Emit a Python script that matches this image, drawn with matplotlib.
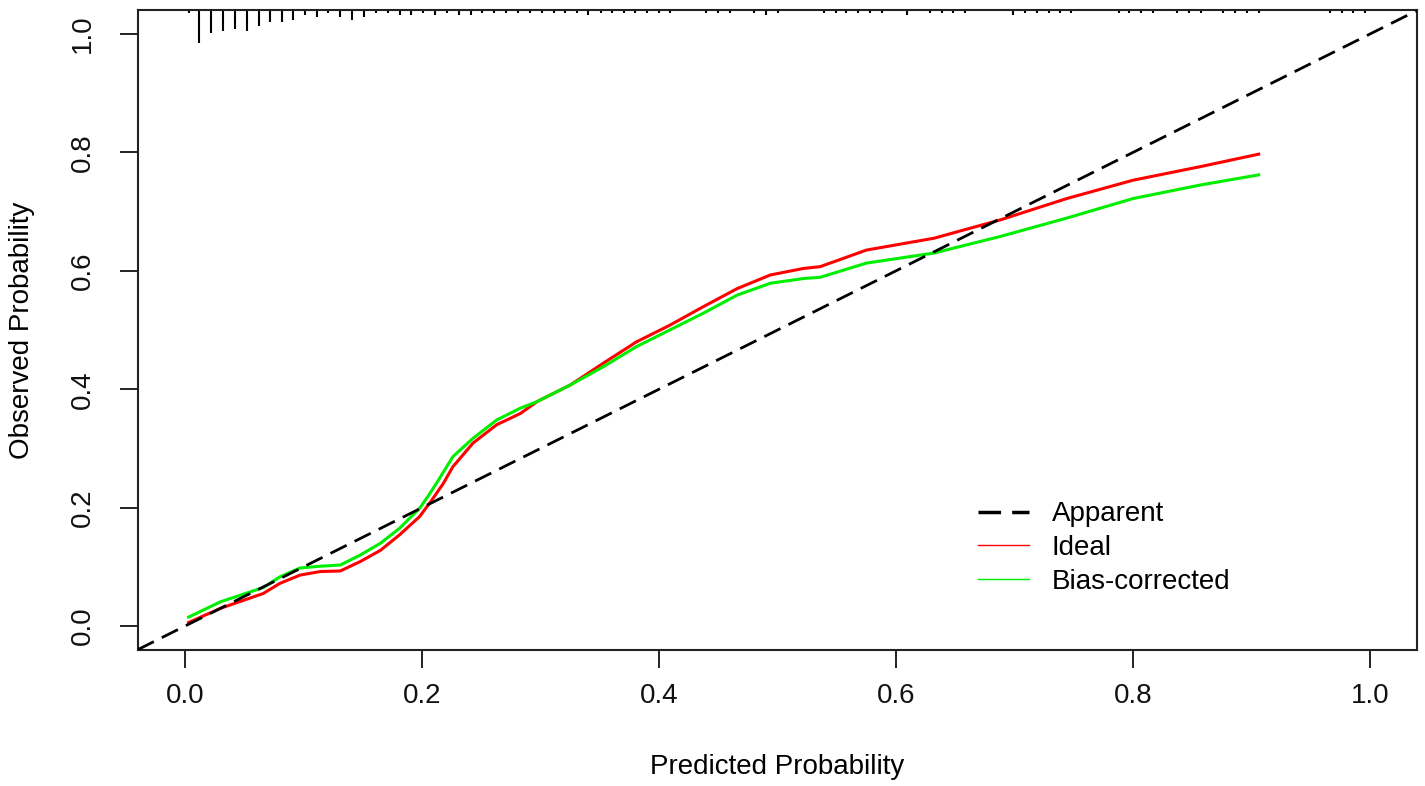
import matplotlib
matplotlib.use('Agg')
import matplotlib.pyplot as plt
from matplotlib.lines import Line2D

plt.rcParams['font.family'] = ['Liberation Sans', 'DejaVu Sans']

# calibration curves
ideal_x = [0.003, 0.030, 0.066, 0.080, 0.097, 0.114, 0.131, 0.148, 0.165, 0.181,
           0.198, 0.208, 0.218, 0.226, 0.243, 0.263, 0.283, 0.297, 0.325, 0.353,
           0.381, 0.409, 0.437, 0.466, 0.494, 0.522, 0.536, 0.575, 0.632, 0.688,
           0.744, 0.800, 0.857, 0.906]
ideal_y = [0.006, 0.030, 0.055, 0.072, 0.086, 0.092, 0.093, 0.109, 0.128, 0.154,
           0.185, 0.212, 0.241, 0.269, 0.309, 0.340, 0.359, 0.379, 0.407, 0.444,
           0.480, 0.508, 0.539, 0.570, 0.593, 0.604, 0.607, 0.635, 0.655, 0.686,
           0.722, 0.753, 0.776, 0.797]

bias_x = [0.003, 0.030, 0.066, 0.080, 0.097, 0.114, 0.131, 0.148, 0.165, 0.181,
          0.198, 0.206, 0.214, 0.226, 0.243, 0.263, 0.283, 0.297, 0.325, 0.353,
          0.381, 0.409, 0.437, 0.466, 0.494, 0.522, 0.536, 0.575, 0.632, 0.688,
          0.744, 0.800, 0.857, 0.906]
bias_y = [0.015, 0.041, 0.065, 0.083, 0.098, 0.101, 0.103, 0.120, 0.140, 0.165,
          0.199, 0.222, 0.247, 0.286, 0.317, 0.348, 0.368, 0.379, 0.407, 0.438,
          0.472, 0.500, 0.528, 0.559, 0.579, 0.587, 0.589, 0.613, 0.630, 0.658,
          0.689, 0.722, 0.745, 0.762]

# distribution of predicted risk (rug along the top)
rug_x = [0.003, 0.012, 0.022, 0.032, 0.042, 0.052, 0.062, 0.072, 0.082, 0.091,
         0.101, 0.111, 0.121, 0.131, 0.141, 0.151, 0.161, 0.171, 0.181, 0.191,
         0.201, 0.211, 0.221, 0.231, 0.241, 0.251, 0.261, 0.271, 0.281, 0.291,
         0.301, 0.311, 0.321, 0.331, 0.340, 0.351, 0.360, 0.370, 0.380, 0.390,
         0.400, 0.409, 0.440, 0.450, 0.460, 0.480, 0.490, 0.500, 0.539, 0.549,
         0.558, 0.568, 0.578, 0.588, 0.609, 0.629, 0.639, 0.648, 0.658, 0.699,
         0.709, 0.719, 0.729, 0.738, 0.748, 0.788, 0.797, 0.807, 0.817, 0.837,
         0.847, 0.857, 0.876, 0.886, 0.896, 0.906, 0.966, 0.976, 0.986, 0.996]
rug_n = [1, 14, 10, 9, 8, 9, 7, 5, 5, 4,
         2, 3, 1, 3, 4, 3, 1, 1, 2, 2,
         1, 2, 1, 2, 2, 1, 1, 1, 1, 1,
         1, 1, 1, 1, 2, 1, 1, 1, 1, 1,
         1, 1, 1, 1, 1, 1, 2, 1, 1, 1,
         1, 1, 1, 1, 2, 1, 1, 1, 1, 2,
         1, 1, 1, 1, 1, 1, 1, 1, 1, 1,
         1, 1, 1, 1, 1, 1, 1, 1, 1, 1]

ticks = [0.0, 0.2, 0.4, 0.6, 0.8, 1.0]
tick_labels = ['0.0', '0.2', '0.4', '0.6', '0.8', '1.0']
legend_labels = ['Apparent', 'Ideal', 'Bias-corrected']

fig = plt.figure(figsize=(14.25, 7.86), dpi=100)
ax = fig.add_axes([0.0966, 0.1734, 0.8981, 0.8135])
ax.set_xlim(-0.04, 1.04)
ax.set_ylim(-0.04, 1.04)

dash = (6.5, 3.2)
ax.plot(ideal_x, ideal_y, color='red', lw=2.2, zorder=2)
ax.plot(bias_x, bias_y, color='#00ee00', lw=2.2, zorder=2)
ax.axline((0, 0), (1, 1), color='black', lw=2.0, dashes=dash, zorder=3)

# rug hangs from the top frame, length proportional to count
unit = 0.0036
ax.vlines(rug_x, [1 - unit * n for n in rug_n], 1,
          transform=ax.get_xaxis_transform(), color='black', lw=1.5)

ax.set_xticks(ticks)
ax.set_xticklabels(tick_labels)
ax.set_yticks(ticks)
ax.set_yticklabels(tick_labels, rotation=90, va='center')
ax.tick_params(axis='both', length=13, width=1.3, labelsize=20, colors='#111111')
ax.tick_params(axis='x', pad=11)
ax.tick_params(axis='y', pad=17)
for s in ax.spines.values():
    s.set_linewidth(1.5)
    s.set_color('#222222')

ax.set_xlabel('Predicted Probability', fontsize=20, va='center')
ax.xaxis.set_label_coords(0.5, -0.1835)
ax.set_ylabel('Observed Probability', fontsize=20, va='center')
ax.yaxis.set_label_coords(-0.0903, 0.5)

handles = [Line2D([], [], color='black', lw=2.5, dashes=dash),
           Line2D([], [], color='red', lw=1.0),
           Line2D([], [], color='#00ee00', lw=1.0)]
ax.legend(handles, legend_labels, loc='upper left', bbox_to_anchor=(0.6567, 0.232),
          frameon=False, fontsize=20, handlelength=1.85, handletextpad=0.8,
          labelspacing=0.28, borderpad=0, borderaxespad=0)

fig.savefig('out.png', dpi=100)
